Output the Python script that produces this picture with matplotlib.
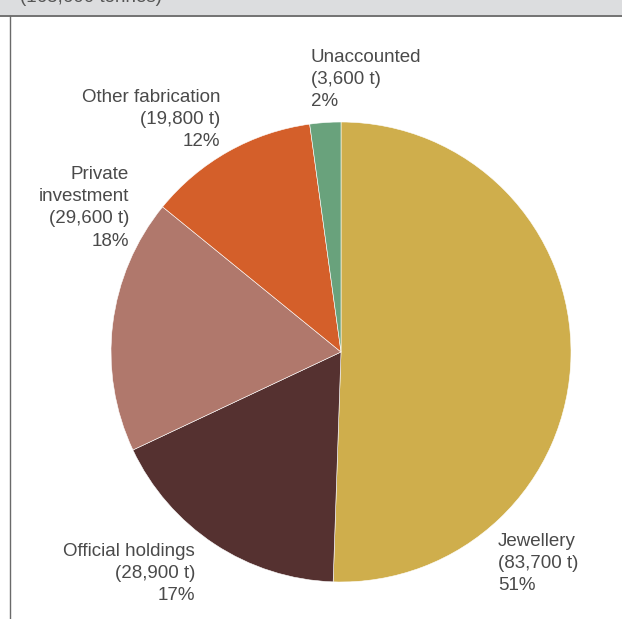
import matplotlib.pyplot as plt
from matplotlib.patches import Rectangle

# gold above ground, by end use (tonnes)
names = ["Jewellery", "Official holdings", "Private investment",
         "Other fabrication", "Unaccounted"]
label_names = ["Jewellery", "Official holdings", "Private\ninvestment",
               "Other fabrication", "Unaccounted"]
tonnes = [83700, 28900, 29600, 19800, 3600]
colors = ["#cfae4c", "#553130", "#b0786c", "#d45f2a", "#69a27c"]

W, H = 622, 619

plt.rcParams["font.family"] = ["Liberation Sans", "DejaVu Sans"]

fig = plt.figure(figsize=(W / 100, H / 100), dpi=100)
ax = fig.add_axes([0, 0, 1, 1])

# header band and frame lines
ax.add_patch(Rectangle((0, H - 15), W, 15, facecolor="#dcdddf", edgecolor="none", zorder=0))
ax.plot([0, W], [H - 15.5, H - 15.5], color="#5a5a5a", lw=1.2, zorder=1)
ax.plot([9.5, 9.5], [0, H - 15.5], color="#6a6a6a", lw=1.0, zorder=1)
total = sum(tonnes)
ax.text(20, H - 1.5, f"({total:,} tonnes)", fontsize=13.5, color="#555555",
        ha="left", va="baseline")

ax.pie(tonnes, colors=colors, startangle=90, counterclock=False,
       center=(341, H - 352), radius=230,
       wedgeprops=dict(edgecolor="white", linewidth=0.4))

# label anchor (x, top y, alignment) per slice
label_pos = [
    (498, 533, "left"),
    (195, 543, "right"),
    (129, 166, "right"),
    (220, 89, "right"),
    (311, 49, "left"),
]
for lab, t, (x, y, ha) in zip(label_names, tonnes, label_pos):
    pct = round(100 * t / total)
    ax.text(x, H - y, f"{lab}\n({t:,} t)\n{pct}%", ha=ha, va="top",
            multialignment=ha, fontsize=13.5, color="#4a4a4a",
            linespacing=1.4)

ax.set_xlim(0, W)
ax.set_ylim(0, H)
ax.set_aspect("auto")
ax.axis("off")

fig.savefig("out.png", dpi=100)
